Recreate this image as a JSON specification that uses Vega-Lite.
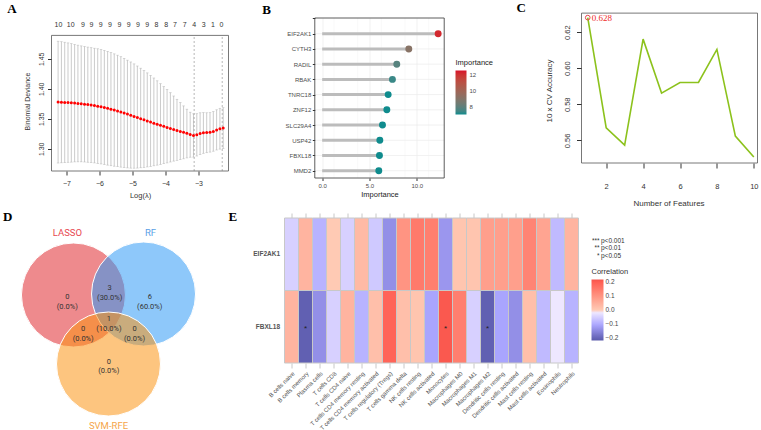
{
  "$schema": "https://vega.github.io/schema/vega-lite/v6.json",
  "background": "white",
  "padding": {"left": 2.5, "top": 1, "right": 0, "bottom": 0},
  "config": {
    "font": "Liberation Sans",
    "view": {"stroke": null},
    "title": {"font": "Liberation Serif", "fontSize": 13, "fontWeight": "bold", "anchor": "start", "frame": "group", "color": "black"},
    "axis": {"labelFont": "Liberation Sans", "titleFont": "Liberation Sans", "titleFontWeight": "normal"},
    "legend": {"labelFont": "Liberation Sans", "titleFont": "Liberation Sans", "titleFontWeight": "normal"}
  },
  "datasets": {
    "lasso": [
      {"l": -7.25, "m": 1.3778, "lo": 1.2763, "hi": 1.4793},
      {"l": -7.15, "m": 1.3776, "lo": 1.2767, "hi": 1.4785},
      {"l": -7.05, "m": 1.3773, "lo": 1.2770, "hi": 1.4776},
      {"l": -6.95, "m": 1.3770, "lo": 1.2775, "hi": 1.4765},
      {"l": -6.85, "m": 1.3766, "lo": 1.2778, "hi": 1.4752},
      {"l": -6.75, "m": 1.3762, "lo": 1.2782, "hi": 1.4740},
      {"l": -6.65, "m": 1.3757, "lo": 1.2783, "hi": 1.4727},
      {"l": -6.55, "m": 1.3751, "lo": 1.2783, "hi": 1.4715},
      {"l": -6.45, "m": 1.3744, "lo": 1.2780, "hi": 1.4705},
      {"l": -6.35, "m": 1.3737, "lo": 1.2776, "hi": 1.4695},
      {"l": -6.25, "m": 1.3729, "lo": 1.2772, "hi": 1.4685},
      {"l": -6.15, "m": 1.3720, "lo": 1.2765, "hi": 1.4676},
      {"l": -6.05, "m": 1.3711, "lo": 1.2757, "hi": 1.4667},
      {"l": -5.95, "m": 1.3700, "lo": 1.2748, "hi": 1.4655},
      {"l": -5.85, "m": 1.3688, "lo": 1.2738, "hi": 1.4640},
      {"l": -5.75, "m": 1.3675, "lo": 1.2728, "hi": 1.4623},
      {"l": -5.65, "m": 1.3661, "lo": 1.2718, "hi": 1.4603},
      {"l": -5.55, "m": 1.3646, "lo": 1.2710, "hi": 1.4582},
      {"l": -5.45, "m": 1.3630, "lo": 1.2702, "hi": 1.4560},
      {"l": -5.35, "m": 1.3613, "lo": 1.2695, "hi": 1.4535},
      {"l": -5.25, "m": 1.3596, "lo": 1.2688, "hi": 1.4507},
      {"l": -5.15, "m": 1.3578, "lo": 1.2682, "hi": 1.4477},
      {"l": -5.05, "m": 1.3559, "lo": 1.2678, "hi": 1.4447},
      {"l": -4.95, "m": 1.3540, "lo": 1.2677, "hi": 1.4415},
      {"l": -4.85, "m": 1.3521, "lo": 1.2679, "hi": 1.4380},
      {"l": -4.75, "m": 1.3502, "lo": 1.2684, "hi": 1.4343},
      {"l": -4.65, "m": 1.3483, "lo": 1.2690, "hi": 1.4305},
      {"l": -4.55, "m": 1.3464, "lo": 1.2698, "hi": 1.4265},
      {"l": -4.45, "m": 1.3445, "lo": 1.2707, "hi": 1.4223},
      {"l": -4.35, "m": 1.3427, "lo": 1.2717, "hi": 1.4180},
      {"l": -4.25, "m": 1.3409, "lo": 1.2728, "hi": 1.4133},
      {"l": -4.15, "m": 1.3391, "lo": 1.2740, "hi": 1.4085},
      {"l": -4.05, "m": 1.3374, "lo": 1.2752, "hi": 1.4037},
      {"l": -3.95, "m": 1.3357, "lo": 1.2765, "hi": 1.3988},
      {"l": -3.85, "m": 1.3340, "lo": 1.2780, "hi": 1.3935},
      {"l": -3.75, "m": 1.3323, "lo": 1.2795, "hi": 1.3880},
      {"l": -3.65, "m": 1.3306, "lo": 1.2808, "hi": 1.3825},
      {"l": -3.55, "m": 1.3290, "lo": 1.2820, "hi": 1.3770},
      {"l": -3.45, "m": 1.3275, "lo": 1.2833, "hi": 1.3715},
      {"l": -3.35, "m": 1.3258, "lo": 1.2848, "hi": 1.3660},
      {"l": -3.25, "m": 1.3240, "lo": 1.2860, "hi": 1.3610},
      {"l": -3.15, "m": 1.3222, "lo": 1.2862, "hi": 1.3583},
      {"l": -3.05, "m": 1.3235, "lo": 1.2880, "hi": 1.3585},
      {"l": -2.95, "m": 1.3255, "lo": 1.2905, "hi": 1.3600},
      {"l": -2.85, "m": 1.3268, "lo": 1.2925, "hi": 1.3603},
      {"l": -2.75, "m": 1.3272, "lo": 1.2935, "hi": 1.3600},
      {"l": -2.65, "m": 1.3275, "lo": 1.2945, "hi": 1.3602},
      {"l": -2.55, "m": 1.3290, "lo": 1.2960, "hi": 1.3620},
      {"l": -2.45, "m": 1.3315, "lo": 1.2980, "hi": 1.3650},
      {"l": -2.35, "m": 1.3335, "lo": 1.2995, "hi": 1.3675},
      {"l": -2.25, "m": 1.3345, "lo": 1.3005, "hi": 1.3685}
    ],
    "lassoTop": [
      {"l": -7.24, "n": "10"}, {"l": -6.87, "n": "10"}, {"l": -6.5, "n": "9"}, {"l": -6.24, "n": "9"},
      {"l": -5.96, "n": "9"}, {"l": -5.68, "n": "9"}, {"l": -5.39, "n": "9"}, {"l": -5.11, "n": "9"},
      {"l": -4.83, "n": "9"}, {"l": -4.55, "n": "9"}, {"l": -4.27, "n": "8"}, {"l": -3.98, "n": "8"},
      {"l": -3.71, "n": "7"}, {"l": -3.42, "n": "7"}, {"l": -3.13, "n": "4"}, {"l": -2.84, "n": "3"},
      {"l": -2.56, "n": "1"}, {"l": -2.3, "n": "0"}
    ],
    "imp": [
      {"gene": "EIF2AK1", "imp": 12.25},
      {"gene": "CYTH3", "imp": 9.15},
      {"gene": "RADIL", "imp": 7.88},
      {"gene": "RBAK", "imp": 7.42},
      {"gene": "TNRC18", "imp": 6.97},
      {"gene": "ZNF12", "imp": 6.83},
      {"gene": "SLC29A4", "imp": 6.37},
      {"gene": "USP42", "imp": 6.09},
      {"gene": "FBXL18", "imp": 6.05},
      {"gene": "MMD2", "imp": 5.98}
    ],
    "rfe": [
      {"n": 1, "acc": 0.628}, {"n": 2, "acc": 0.567}, {"n": 3, "acc": 0.5574},
      {"n": 4, "acc": 0.6161}, {"n": 5, "acc": 0.5862}, {"n": 6, "acc": 0.5921},
      {"n": 7, "acc": 0.5921}, {"n": 8, "acc": 0.6104}, {"n": 9, "acc": 0.5624},
      {"n": 10, "acc": 0.5508}
    ],
    "venn": [
      {"set": "LASSO", "cx": 12.4, "cy": 61.5, "lx": 9.0, "ly": 92.5},
      {"set": "RF", "cx": 52.0, "cy": 62.0, "lx": 55.9, "ly": 92.5},
      {"set": "SVM-RFE", "cx": 32.2, "cy": 27.0, "lx": 32.2, "ly": -4.0}
    ],
    "vennCounts": [
      {"x": 8.9, "y": 60.5, "t": "0\n(0.0%)"},
      {"x": 32.9, "y": 64.9, "t": "3\n(30.0%)"},
      {"x": 55.5, "y": 60.5, "t": "6\n(60.0%)"},
      {"x": 32.4, "y": 49.5, "t": "1\n(10.0%)"},
      {"x": 17.9, "y": 44.4, "t": "0\n(0.0%)"},
      {"x": 46.9, "y": 44.4, "t": "0\n(0.0%)"},
      {"x": 32.4, "y": 28.25, "t": "0\n(0.0%)"}
    ],
    "corr": [
      {"cell": "B cells naive", "gene": "EIF2AK1", "r": -0.05},
      {"cell": "B cells memory", "gene": "EIF2AK1", "r": 0.04},
      {"cell": "Plasma cells", "gene": "EIF2AK1", "r": -0.09},
      {"cell": "T cells CD8", "gene": "EIF2AK1", "r": 0.0},
      {"cell": "T cells CD4 naive", "gene": "EIF2AK1", "r": -0.05},
      {"cell": "T cells CD4 memory resting", "gene": "EIF2AK1", "r": 0.03},
      {"cell": "T cells CD4 memory activated", "gene": "EIF2AK1", "r": -0.06},
      {"cell": "T cells regulatory (Tregs)", "gene": "EIF2AK1", "r": -0.14},
      {"cell": "T cells gamma delta", "gene": "EIF2AK1", "r": 0.1},
      {"cell": "NK cells resting", "gene": "EIF2AK1", "r": 0.15},
      {"cell": "NK cells activated", "gene": "EIF2AK1", "r": 0.14},
      {"cell": "Monocytes", "gene": "EIF2AK1", "r": -0.13},
      {"cell": "Macrophages M0", "gene": "EIF2AK1", "r": 0.01},
      {"cell": "Macrophages M1", "gene": "EIF2AK1", "r": 0.01},
      {"cell": "Macrophages M2", "gene": "EIF2AK1", "r": 0.08},
      {"cell": "Dendritic cells resting", "gene": "EIF2AK1", "r": 0.08},
      {"cell": "Dendritic cells activated", "gene": "EIF2AK1", "r": 0.08},
      {"cell": "Mast cells resting", "gene": "EIF2AK1", "r": 0.13},
      {"cell": "Mast cells activated", "gene": "EIF2AK1", "r": 0.07},
      {"cell": "Eosinophils", "gene": "EIF2AK1", "r": -0.08},
      {"cell": "Neutrophils", "gene": "EIF2AK1", "r": 0.04},
      {"cell": "B cells naive", "gene": "FBXL18", "r": 0.04},
      {"cell": "B cells memory", "gene": "FBXL18", "r": -0.21, "sig": "*"},
      {"cell": "Plasma cells", "gene": "FBXL18", "r": -0.14},
      {"cell": "T cells CD8", "gene": "FBXL18", "r": -0.05},
      {"cell": "T cells CD4 naive", "gene": "FBXL18", "r": 0.04},
      {"cell": "T cells CD4 memory resting", "gene": "FBXL18", "r": -0.09},
      {"cell": "T cells CD4 memory activated", "gene": "FBXL18", "r": 0.02},
      {"cell": "T cells regulatory (Tregs)", "gene": "FBXL18", "r": 0.19},
      {"cell": "T cells gamma delta", "gene": "FBXL18", "r": 0.02},
      {"cell": "NK cells resting", "gene": "FBXL18", "r": 0.01},
      {"cell": "NK cells activated", "gene": "FBXL18", "r": -0.11},
      {"cell": "Monocytes", "gene": "FBXL18", "r": 0.21, "sig": "*"},
      {"cell": "Macrophages M0", "gene": "FBXL18", "r": 0.14},
      {"cell": "Macrophages M1", "gene": "FBXL18", "r": -0.05},
      {"cell": "Macrophages M2", "gene": "FBXL18", "r": -0.21, "sig": "*"},
      {"cell": "Dendritic cells resting", "gene": "FBXL18", "r": -0.11},
      {"cell": "Dendritic cells activated", "gene": "FBXL18", "r": -0.14},
      {"cell": "Mast cells resting", "gene": "FBXL18", "r": 0.02},
      {"cell": "Mast cells activated", "gene": "FBXL18", "r": -0.08},
      {"cell": "Eosinophils", "gene": "FBXL18", "r": -0.02},
      {"cell": "Neutrophils", "gene": "FBXL18", "r": -0.09}
    ],
    "plegend": [
      {"k": 1, "s": "***", "p": "p<0.001"},
      {"k": 2, "s": "**", "p": "p<0.01"},
      {"k": 3, "s": "*", "p": "p<0.05"}
    ]
  },
  "resolve": {"scale": {"color": "independent"}},
  "bounds": "flush",
  "align": "each",
  "columns": 4,
  "spacing": {"row": 40, "column": 0},
  "concat": [
    {
      "width": 177, "height": 153,
      "title": {"text": "A", "dx": -44.3, "offset": 2.5},
      "layer": [
        {
          "data": {"name": "lasso"},
          "mark": {"type": "rule", "color": "#b5b5b5", "strokeWidth": 0.7},
          "encoding": {
            "x": {"field": "l", "type": "quantitative", "scale": {"domain": [-7.45, -2.09], "nice": false, "zero": false},
              "axis": {"values": [-7, -6, -5, -4, -3], "format": "d", "title": "Log(λ)", "domain": false, "grid": false, "tickSize": 4, "tickColor": "#333", "labelFontSize": 7, "labelColor": "#333", "labelPadding": 4, "titleFontSize": 7.5, "titleColor": "#333", "titlePadding": 5}},
            "y": {"field": "lo", "type": "quantitative", "scale": {"domain": [1.263, 1.518], "nice": false, "zero": false},
              "axis": {"values": [1.3, 1.35, 1.4, 1.45], "format": ".2f", "labelAngle": -90, "labelAlign": "center", "labelBaseline": "bottom", "title": "Binomial Deviance", "titleY": 83, "domain": false, "grid": false, "tickSize": 4, "tickColor": "#333", "labelFontSize": 7, "labelColor": "#333", "labelPadding": 3, "titleFontSize": 7, "titleColor": "#333", "titlePadding": 7}},
            "y2": {"field": "hi"}
          }
        },
        {
          "data": {"name": "lasso"},
          "mark": {"type": "tick", "orient": "horizontal", "color": "#b5b5b5", "size": 2.5, "thickness": 0.7},
          "encoding": {"x": {"field": "l", "type": "quantitative"}, "y": {"field": "hi", "type": "quantitative"}}
        },
        {
          "data": {"name": "lasso"},
          "mark": {"type": "tick", "orient": "horizontal", "color": "#b5b5b5", "size": 2.5, "thickness": 0.7},
          "encoding": {"x": {"field": "l", "type": "quantitative"}, "y": {"field": "lo", "type": "quantitative"}}
        },
        {
          "data": {"values": [{"v": -3.13}, {"v": -2.28}]},
          "mark": {"type": "rule", "color": "#9a9a9a", "strokeDash": [2, 2], "strokeWidth": 0.7},
          "encoding": {"x": {"field": "v", "type": "quantitative"}, "y": {"datum": 1.263, "type": "quantitative"}, "y2": {"datum": 1.489}}
        },
        {
          "data": {"name": "lasso"},
          "mark": {"type": "circle", "color": "#ff0000", "size": 9, "opacity": 1},
          "encoding": {"x": {"field": "l", "type": "quantitative"}, "y": {"field": "m", "type": "quantitative"}}
        },
        {
          "data": {"name": "lassoTop"},
          "mark": {"type": "text", "fontSize": 7, "color": "#333", "baseline": "middle"},
          "encoding": {"x": {"field": "l", "type": "quantitative"}, "y": {"datum": 1.5063, "type": "quantitative"}, "text": {"field": "n"}}
        },
        {
          "data": {"values": [{"a": 1}]},
          "mark": {"type": "rect", "filled": false, "color": "#555", "strokeWidth": 0.8},
          "encoding": {"y": {"datum": 1.263, "type": "quantitative"}, "y2": {"datum": 1.489}}
        }
      ]
    },
    {"width": 56, "height": 1, "data": {"values": [{"a": 0}]}, "mark": {"type": "point", "opacity": 0}, "encoding": {}},
    {
      "width": 160, "height": 160,
      "title": {"text": "B", "dx": -22.3, "offset": -1.2},
      "layer": [
        {
          "data": {"values": [{"v": 1.25}, {"v": 3.75}, {"v": 6.25}, {"v": 8.75}, {"v": 11.25}]},
          "mark": {"type": "rule", "color": "#f3f3f3", "strokeWidth": 0.5},
          "encoding": {"x": {"field": "v", "type": "quantitative"}}
        },
        {
          "data": {"name": "imp"},
          "mark": {"type": "rule", "color": "#ebebeb", "strokeWidth": 0.7},
          "encoding": {
            "y": {"field": "gene", "type": "nominal"},
            "x": {"datum": -0.78, "type": "quantitative"},
            "x2": {"datum": 12.89}
          }
        },
        {
          "data": {"name": "imp"},
          "mark": {"type": "rule", "color": "#bcbcbc", "strokeWidth": 3},
          "encoding": {
            "x": {"field": "imp", "type": "quantitative", "scale": {"domain": [-3.98, 12.92], "nice": false, "zero": false},
              "axis": {"values": [0, 2.5, 5, 7.5, 10, 12.5], "format": ".1f", "title": "Importance", "titleX": 95, "domain": false, "grid": true, "gridColor": "#ebebeb", "gridWidth": 0.7, "tickSize": 2.5, "tickColor": "#333", "labelFontSize": 6, "labelColor": "#4d4d4d", "labelPadding": 1.5, "titleFontSize": 7.5, "titleColor": "#222", "titlePadding": 2}},
            "x2": {"datum": 0},
            "y": {"field": "gene", "type": "nominal",
              "scale": {"type": "point", "domain": ["", "EIF2AK1", "CYTH3", "RADIL", "RBAK", "TNRC18", "ZNF12", "SLC29A4", "USP42", "FBXL18", "MMD2"], "padding": 0.256, "align": 0.064},
              "axis": {"title": null, "domain": false, "grid": false, "offset": -30.3, "tickSize": 2.5, "tickColor": "#333", "labelFontSize": 6, "labelColor": "#4d4d4d", "labelPadding": 1.5}}
          }
        },
        {
          "data": {"name": "imp"},
          "mark": {"type": "circle", "size": 48, "opacity": 1},
          "encoding": {
            "x": {"field": "imp", "type": "quantitative"},
            "y": {"field": "gene", "type": "nominal"},
            "color": {"field": "imp", "type": "quantitative",
              "scale": {"domain": [7.1, 12.55], "range": ["#0f8b8d", "#d8102a"], "interpolate": "lab", "clamp": true},
              "legend": {"title": "Importance", "orient": "none", "legendX": 171, "legendY": 41, "direction": "vertical", "gradientLength": 44, "gradientThickness": 11, "values": [8, 10, 12], "format": "d", "titleFontSize": 7.5, "titleColor": "#222", "labelFontSize": 6, "labelColor": "#4d4d4d", "titlePadding": 4, "labelOffset": 3}}
          }
        },
        {
          "data": {"values": [{"a": 1}]},
          "mark": {"type": "rect", "filled": false, "color": "#333", "strokeWidth": 0.8},
          "encoding": {"x": {"datum": -0.78, "type": "quantitative"}, "x2": {"datum": 12.89}}
        }
      ]
    },
    {
      "width": 179, "height": 145,
      "title": {"text": "C", "dx": -62, "offset": -2.2},
      "layer": [
        {
          "data": {"name": "rfe"},
          "mark": {"type": "line", "color": "#8cc21c", "strokeWidth": 1.6},
          "encoding": {
            "x": {"field": "n", "type": "quantitative", "scale": {"domain": [0.499, 10.2], "nice": false, "zero": false},
              "axis": {"values": [2, 4, 6, 8, 10], "title": "Number of Features", "titleX": 90, "domain": false, "grid": false, "tickSize": 5, "tickColor": "#333", "labelFontSize": 7.5, "labelColor": "#333", "labelPadding": 14, "titleFontSize": 8, "titleColor": "#333", "titlePadding": 10}},
            "y": {"field": "acc", "type": "quantitative", "scale": {"domain": [0.5475, 0.6278], "nice": false, "zero": false},
              "axis": {"values": [0.56, 0.58, 0.6, 0.62], "format": ".2f", "offset": -3, "labelAngle": -90, "labelAlign": "center", "labelBaseline": "bottom", "title": "10 x CV Accuracy", "domain": false, "grid": false, "tickSize": 5, "tickColor": "#333", "labelFontSize": 7.5, "labelColor": "#333", "labelPadding": 5.5, "titleFontSize": 8, "titleColor": "#333", "titlePadding": 10}}
          }
        },
        {
          "data": {"name": "rfe"},
          "transform": [{"filter": "datum.n == 1"}],
          "mark": {"type": "point", "color": "#e8474f", "size": 22, "strokeWidth": 1, "opacity": 1},
          "encoding": {"x": {"field": "n", "type": "quantitative"}, "y": {"field": "acc", "type": "quantitative"}}
        },
        {
          "data": {"name": "rfe"},
          "transform": [{"filter": "datum.n == 1"}],
          "mark": {"type": "text", "color": "#ee2a2a", "font": "Liberation Serif", "fontSize": 9, "align": "left", "baseline": "middle", "dx": 4},
          "encoding": {"x": {"field": "n", "type": "quantitative"}, "y": {"field": "acc", "type": "quantitative"}, "text": {"field": "acc", "format": ".3f"}}
        },
        {
          "data": {"values": [{"a": 1}]},
          "mark": {"type": "rect", "filled": false, "color": "#555", "strokeWidth": 0.8},
          "encoding": {"x": {"datum": 0.662, "type": "quantitative"}, "x2": {"datum": 10.2}, "y": {"datum": 0.5475, "type": "quantitative"}, "y2": {"datum": 0.6305}}
        }
      ]
    },
    {
      "width": 177, "height": 200,
      "title": {"text": "D", "dx": -48.5, "offset": -6},
      "resolve": {"scale": {"color": "independent"}},
      "layer": [
        {
          "data": {"name": "venn"},
          "mark": {"type": "circle", "size": 10816, "opacity": 1, "fillOpacity": 0.54, "stroke": "white", "strokeWidth": 1, "strokeOpacity": 1},
          "encoding": {
            "x": {"field": "cx", "type": "quantitative", "scale": {"domain": [0, 100], "nice": false, "zero": false}, "axis": null},
            "y": {"field": "cy", "type": "quantitative", "scale": {"domain": [0, 100], "nice": false, "zero": false}, "axis": null},
            "color": {"field": "set", "type": "nominal", "scale": {"domain": ["LASSO", "RF", "SVM-RFE"], "range": ["#df262d", "#2e99f6", "#fb9412"]}, "legend": null}
          }
        },
        {
          "data": {"name": "vennCounts"},
          "mark": {"type": "text", "font": "Roboto", "fontSize": 7.5, "lineHeight": 9.5, "lineBreak": "\n", "color": "#333", "baseline": "middle", "align": "center"},
          "encoding": {
            "x": {"field": "x", "type": "quantitative"},
            "y": {"field": "y", "type": "quantitative"},
            "text": {"field": "t"}
          }
        },
        {
          "data": {"name": "venn"},
          "mark": {"type": "text", "font": "Roboto", "fontSize": 9.5, "baseline": "middle", "align": "center"},
          "encoding": {
            "x": {"field": "lx", "type": "quantitative"},
            "y": {"field": "ly", "type": "quantitative"},
            "text": {"field": "set"},
            "color": {"field": "set", "type": "nominal", "scale": {"domain": ["LASSO", "RF", "SVM-RFE"], "range": ["#e8474f", "#5a9fe6", "#f5a54a"]}, "legend": null}
          }
        }
      ]
    },
    {"width": 56, "height": 1, "data": {"values": [{"a": 0}]}, "mark": {"type": "point", "opacity": 0}, "encoding": {}},
    {
      "width": 294, "height": 145,
      "title": {"text": "E", "dx": -56, "offset": -11},
      "data": {"name": "corr"},
      "resolve": {"axis": {"x": "independent"}},
      "layer": [
        {
          "mark": {"type": "rect", "stroke": "#c8c8c8", "strokeWidth": 1},
          "encoding": {
            "x": {"field": "cell", "type": "nominal", "sort": null, "scale": {"paddingInner": 0, "paddingOuter": 0},
              "axis": {"orient": "bottom", "title": null, "labelAngle": -45, "labelFontSize": 6, "labelColor": "#555", "domain": false, "ticks": true, "tickColor": "#c8c8c8", "tickSize": 5, "labelPadding": 2}},
            "y": {"field": "gene", "type": "nominal", "scale": {"domain": ["EIF2AK1", "FBXL18"], "paddingInner": 0, "paddingOuter": 0},
              "axis": {"title": null, "ticks": false, "domain": false, "labelFontSize": 6.5, "labelFontWeight": "bold", "labelColor": "#555", "labelPadding": 5}},
            "color": {"field": "r", "type": "quantitative",
              "scale": {"domain": [-0.22, 0, 0.22], "range": ["#5a5aab", "#ffffff", "#f4544b"]},
              "legend": {"title": "Correlation", "orient": "none", "legendX": 307, "legendY": 50, "direction": "vertical", "gradientLength": 61, "gradientThickness": 12, "values": [-0.2, -0.1, 0, 0.1, 0.2], "format": ".1f", "titleFontSize": 7.5, "titleColor": "#333", "labelFontSize": 6.5, "labelColor": "#444", "titlePadding": 4}}
          }
        },
        {
          "transform": [{"filter": "datum.sig"}],
          "mark": {"type": "text", "fontSize": 8, "color": "#222", "baseline": "middle", "dy": 2},
          "encoding": {
            "x": {"field": "cell", "type": "nominal", "sort": null,
              "axis": {"orient": "top", "title": null, "labels": false, "domain": false, "ticks": true, "tickColor": "#c8c8c8", "tickSize": 5}},
            "y": {"field": "gene", "type": "nominal"},
            "text": {"field": "sig"}
          }
        }
      ]
    },
    {
      "width": 42, "height": 48,
      "data": {"name": "plegend"},
      "layer": [
        {
          "mark": {"type": "text", "fontSize": 6.5, "color": "#333", "align": "right", "baseline": "middle", "dx": 0},
          "encoding": {
            "y": {"field": "k", "type": "quantitative", "scale": {"domain": [-2.05, 4.35], "reverse": true, "nice": false, "zero": false}, "axis": null},
            "text": {"field": "s"}
          }
        },
        {
          "mark": {"type": "text", "fontSize": 6.5, "color": "#333", "align": "left", "baseline": "middle", "dx": 1.5},
          "encoding": {
            "y": {"field": "k", "type": "quantitative"},
            "text": {"field": "p"}
          }
        }
      ]
    }
  ]
}
